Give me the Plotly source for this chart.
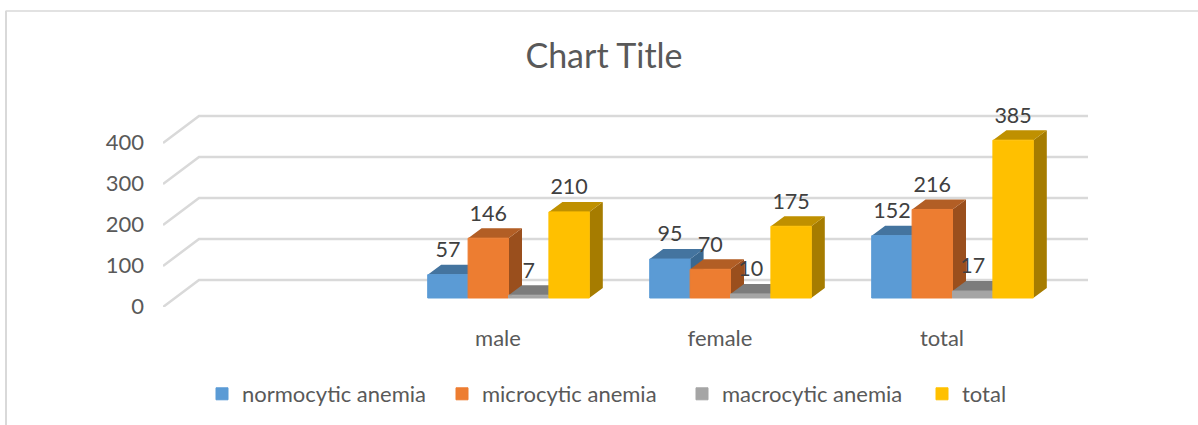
import plotly.graph_objects as go

categories = ["male", "female", "total"]
series_names = ["normocytic anemia", "microcytic anemia", "macrocytic anemia", "total"]
normocytic = [57, 95, 152]
microcytic = [146, 70, 216]
macrocytic = [7, 10, 17]
total = [210, 175, 385]
y_ticks = [0, 100, 200, 300, 400]
front_colors = ["#5B9BD5", "#ED7D31", "#A5A5A5", "#FFC000"]
top_colors = ["#44749F", "#B25E25", "#7C7C7C", "#BF9000"]
side_colors = ["#3A6890", "#9A4F1D", "#6B6B6B", "#A67C00"]
series_values = [normocytic, microcytic, macrocytic, total]

W, H = 1198, 425
L, R, T, B = 163, 1170, 100, 307
GRID_RIGHT = 1088
PX_PER_CAT = 222.0
PX_PER_VAL = 0.41
ZERO_X = 276.0   # pixel of category index 0 in the front plane
ZERO_Y = 298.0   # pixel of value 0 at the front of the bars
BAR_W = 40.4 / PX_PER_CAT
INSET = 10.5 / PX_PER_CAT
DX = 13.5 / PX_PER_CAT
DY = 10.0 / PX_PER_VAL
FLOOR_DX = 36.0 / PX_PER_CAT
FLOOR_Y_FRONT = (ZERO_Y - B) / PX_PER_VAL
FLOOR_Y_BACK = (ZERO_Y - 280.0) / PX_PER_VAL
LABEL_LIFT = 23.0 / PX_PER_VAL
TICK_SHIFT = (ZERO_Y - 306.0) / PX_PER_VAL
TEXT = "#404040"
MUTED = "#595959"
FONT = "Lato"

x_range = [(L - ZERO_X) / PX_PER_CAT, (R - ZERO_X) / PX_PER_CAT]
y_range = [(ZERO_Y - B) / PX_PER_VAL, (ZERO_Y - T) / PX_PER_VAL]
cat_pos = [i + 1 for i in range(len(categories))]

fig = go.Figure()

# back wall and floor gridlines
grid_end = (GRID_RIGHT - ZERO_X) / PX_PER_CAT
gx, gy = [], []
for v in y_ticks:
    gx += [x_range[0], x_range[0] + FLOOR_DX, grid_end, None]
    gy += [v + FLOOR_Y_FRONT, v + FLOOR_Y_BACK, v + FLOOR_Y_BACK, None]
fig.add_trace(go.Scatter(x=gx, y=gy, mode="lines", line=dict(color="#D9D9D9", width=2.5),
                         showlegend=False, hoverinfo="skip", cliponaxis=False))

n = len(series_values)
def left_edge(pos, s):
    return pos + INSET + (s - n / 2) * BAR_W

# side and top faces, painted left to right
for s, vals in enumerate(series_values):
    tx, ty, sx, sy = [], [], [], []
    for pos, v in zip(cat_pos, vals):
        a = left_edge(pos, s)
        b = a + BAR_W
        tx += [a, b, b + DX, a + DX, a, None]
        ty += [v, v, v + DY, v + DY, v, None]
        sx += [b, b + DX, b + DX, b, b, None]
        sy += [0, DY, v + DY, v, 0, None]
    fig.add_trace(go.Scatter(x=sx, y=sy, mode="lines", fill="toself", fillcolor=side_colors[s],
                             line=dict(width=0, color=side_colors[s]), showlegend=False,
                             hoverinfo="skip"))
    fig.add_trace(go.Scatter(x=tx, y=ty, mode="lines", fill="toself", fillcolor=top_colors[s],
                             line=dict(width=0, color=top_colors[s]), showlegend=False,
                             hoverinfo="skip"))

# front faces on an overlaid subplot, so they cover the faces behind them
for s, vals in enumerate(series_values):
    fig.add_trace(go.Bar(x=[p + INSET for p in cat_pos], y=vals, name=series_names[s],
                         marker=dict(color=front_colors[s], line=dict(color=front_colors[s], width=1)),
                         xaxis="x2", yaxis="y2"))

# data labels
for s, vals in enumerate(series_values):
    fig.add_trace(go.Scatter(x=[left_edge(p, s) + BAR_W / 2 for p in cat_pos],
                             y=[v + LABEL_LIFT for v in vals],
                             text=[str(v) for v in vals], mode="text", textposition="middle center",
                             textfont=dict(family=FONT, size=21.5, color=TEXT), showlegend=False,
                             hoverinfo="skip", cliponaxis=False, xaxis="x2", yaxis="y2"))

fig.update_layout(
    width=W, height=H, autosize=False,
    margin=dict(l=L, r=W - R, t=T, b=H - B, pad=0),
    paper_bgcolor="white", plot_bgcolor="rgba(0,0,0,0)",
    font=dict(family=FONT, color=MUTED, size=22),
    title=dict(text="Chart Title", x=604 / W, xanchor="center", xref="container",
               y=1 - 56 / H, yanchor="middle", font=dict(family=FONT, size=34, color=MUTED)),
    barmode="group", bargap=1 - n * BAR_W, bargroupgap=0,
    xaxis=dict(range=x_range, tickmode="array", tickvals=cat_pos, ticktext=categories,
               showgrid=False, zeroline=False, showline=False, ticks="", ticklabelstandoff=16,
               tickfont=dict(family=FONT, size=22, color=MUTED)),
    yaxis=dict(range=y_range, tickmode="array", tickvals=[v + TICK_SHIFT for v in y_ticks],
               ticktext=[str(v) for v in y_ticks], showgrid=False, zeroline=False, showline=False,
               ticks="", ticklabelstandoff=18, tickfont=dict(family=FONT, size=22, color=MUTED)),
    xaxis2=dict(range=x_range, overlaying="x", visible=False),
    yaxis2=dict(range=y_range, overlaying="y", visible=False),
    legend=dict(orientation="h", xref="container", yref="container", x=202 / W, xanchor="left",
                y=1 - 394 / H, yanchor="middle", entrywidth=195, entrywidthmode="pixels",
                font=dict(family=FONT, size=22, color=MUTED), bgcolor="rgba(0,0,0,0)"),
    shapes=[
        dict(type="line", xref="paper", yref="paper", layer="below",
             x0=(5.5 - L) / (R - L), x1=(W - L) / (R - L),
             y0=(B - 11) / (B - T), y1=(B - 11) / (B - T), line=dict(color="#D9D9D9", width=1.5)),
        dict(type="line", xref="paper", yref="paper", layer="below",
             x0=(6 - L) / (R - L), x1=(6 - L) / (R - L),
             y0=(B - 11) / (B - T), y1=(B - H) / (B - T), line=dict(color="#D9D9D9", width=2)),
    ],
)

fig.write_html("out.html", config={"displayModeBar": False},
               post_script="document.body.style.margin='0';document.body.style.overflow='hidden';")
